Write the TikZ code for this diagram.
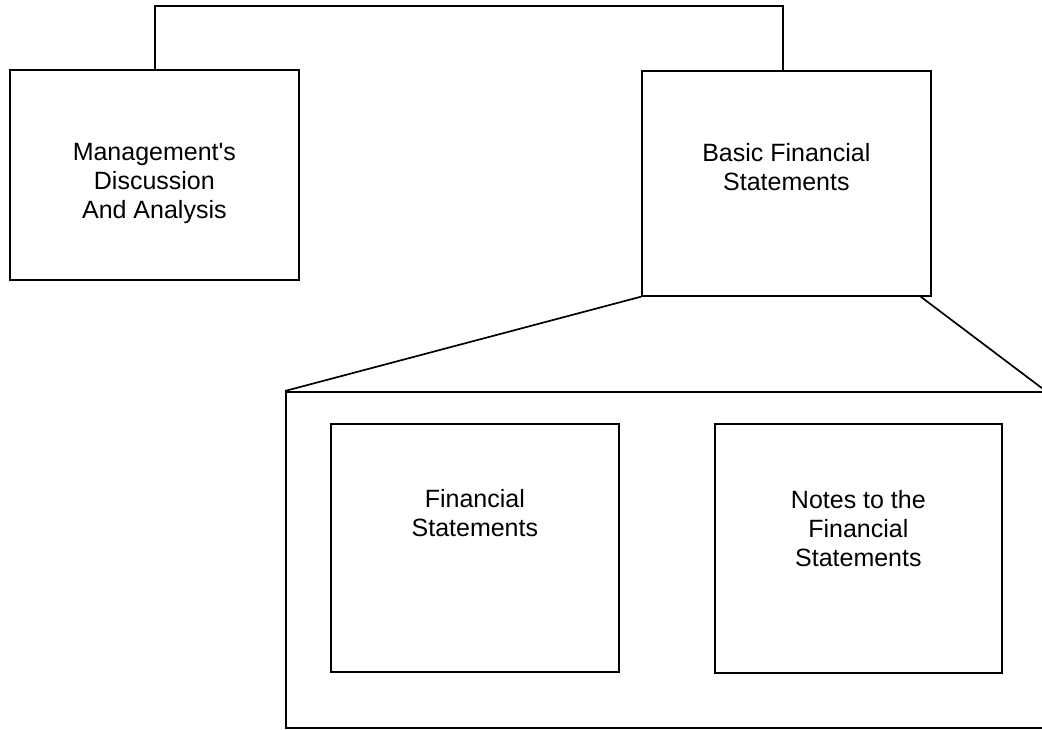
\documentclass[tikz,border=0pt]{standalone}
\usepackage{fontspec}
\setmainfont{Liberation Sans}[Ligatures=TeXOff]
\begin{document}
\begin{tikzpicture}[x=1pt,y=-1pt,
  box/.style={draw=black,line width=1.7pt,rectangle,anchor=north west,inner sep=0pt},
  boxtext/.style={anchor=north,inner sep=0pt,align=center,font=\fontsize{25}{29}\selectfont},
  conn/.style={draw=black,line width=1.7pt}]
\useasboundingbox (0,0) rectangle (1042,730);
\clip (0,0) rectangle (1042,730);
% boxes
\node[box,minimum width=289pt,minimum height=210pt] (mda) at (9,69) {};
\node[box,minimum width=289pt,minimum height=225pt] (bfs) at (641,70) {};
\node[box,minimum width=759pt,minimum height=336pt] (big) at (285,391) {};
\node[box,minimum width=288pt,minimum height=248pt] (fs) at (330,423) {};
\node[box,minimum width=287pt,minimum height=249pt] (notes) at (714,423) {};
% texts
\node[boxtext] (mdat) at ([yshift=-74.1pt]mda.north) {Management's\\Discussion\\And Analysis};
\node[boxtext] (bfst) at ([yshift=-73.1pt]bfs.north) {Basic Financial\\Statements};
\node[boxtext] (fst) at ([yshift=-66.1pt]fs.north) {Financial\\Statements};
\node[boxtext] (notest) at ([yshift=-67.1pt]notes.north) {Notes to the\\Financial\\Statements};
% connectors
\draw[conn] ([xshift=0.5pt]mda.north) -- ++(0,-63) -| ([xshift=-3.5pt]bfs.north);
\draw[conn] (bfs.south west) -- (big.north west);
\draw[conn] ([xshift=-11pt]bfs.south east) -- (big.north east);
\end{tikzpicture}
\end{document}
